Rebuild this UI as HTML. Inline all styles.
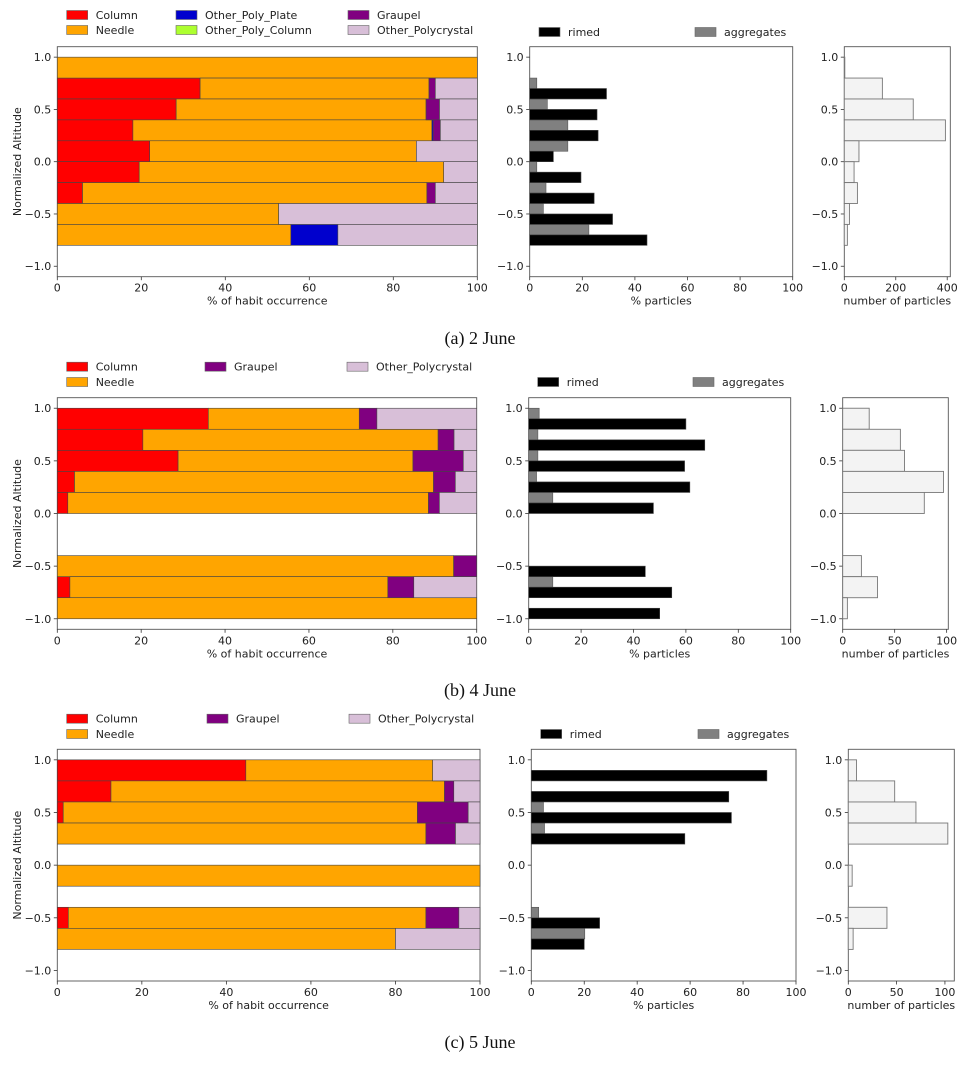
<!DOCTYPE html>
<html><head><meta charset="utf-8">
<style>
html,body{margin:0;padding:0;background:#fff;}
svg{display:block;font-family:"DejaVu Sans","Liberation Sans",sans-serif;}
</style></head>
<body>
<svg id="fig" width="969" height="1065" viewBox="0 0 969 1065" xmlns="http://www.w3.org/2000/svg"></svg>
<script>
// ---- data ----
const habitNames = ["Column","Needle","Other_Poly_Plate","Other_Poly_Column","Graupel","Other_Polycrystal"];
const habitColors = ["#ff0000","#ffa500","#0000cd","#adff2f","#800080","#d8bfd8"];
const xTicksPct = [0,20,40,60,80,100];
const yTicks = [-1.0,-0.5,0.0,0.5,1.0];

// panel a (2 June), bins from top (1.0) downward, 0.2 each
const aColumn = [0,34,28.3,18,22,19.5,6,0,0];
const aNeedle = [100,54.5,59.5,71.2,63.5,72.5,82,52.7,55.6];
const aPlate = [0,0,0,0.3,0,0,0,0,11.2];
const aPolyCol = [0,0,0,0,0,0,0,0,0];
const aGraupel = [0,1.5,3.2,1.7,0,0,2,0,0];
const aPoly = [0,10,9,8.8,14.5,8,10,47.3,33.2];
const aRimed = [0,29.2,25.6,26,9,19.5,24.5,31.5,44.6];
const aAgg = [0,2.7,6.7,14.5,14.5,2.7,6.2,5.2,22.5];
const aCount = [2,148,268,393,57,38,51,20,12];
const aCountTicks = [0,200,400];

// panel b (4 June)
const bColumn = [36,20.4,28.8,4.1,2.5,0,0,0,3,0];
const bNeedle = [36,70.4,56,85.6,86,0,0,94.5,75.8,100];
const bGraupel = [4.2,3.8,12,5.2,2.6,0,0,5.5,6.2,0];
const bPoly = [23.8,5.4,3.2,5.1,8.9,0,0,0,15,0];
const bRimed = [60,67.2,59.5,61.5,47.6,0,0,44.5,54.6,50];
const bAgg = [4,3.5,3.5,3,9.2,0,0,0,9.2,0];
const bCount = [25.5,55.5,59.5,97,78.5,0,0,18,33.5,4.5];
const bCountTicks = [0,50,100];

// panel c (5 June)
const cColumn = [44.6,12.7,1.4,0,0,0,0,2.6,0];
const cNeedle = [44.2,78.9,83.8,87.2,0,100,0,84.6,80];
const cGraupel = [0,2.2,12,7,0,0,0,7.8,0];
const cPoly = [11.2,6.2,2.8,5.8,0,0,0,5,20];
const cRimed = [89,74.6,75.6,58,0,0,0,25.8,20];
const cAgg = [0,0,4.6,5,0,0,0,2.8,20.2];
const cCount = [8.5,48,70,103,0,4,0,40,5];
const cCountTicks = [0,50,100];

const NS = "http://www.w3.org/2000/svg";
const svg = document.getElementById("fig");
function mk(tag, attrs, parent){
  const e = document.createElementNS(NS, tag);
  for (const k in attrs) e.setAttribute(k, attrs[k]);
  (parent||svg).appendChild(e);
  return e;
}
function txt(s, x, y, size, anchor, parent, extra){
  const t = mk("text", Object.assign({x:x, y:y, "font-size":size, "text-anchor":anchor||"middle", fill:"#222"}, extra||{}), parent);
  t.textContent = s;
  return t;
}
function fmtY(v){ const s = Math.abs(v).toFixed(1); return v < 0 ? "\u2212"+s : s; }

function axes(g, L, R, T, B, xmax, xticks, xlabel, yLabels, nameBase){
  const xs = v => L + (R-L)*v/xmax;
  const ys = v => T + (B-T)*(1.1 - v)/2.2;
  const frame = mk("rect",{x:L,y:T,width:R-L,height:B-T,fill:"none",stroke:"#555","stroke-width":0.9},g);
  
  
  xticks.forEach(v=>{
    const x = xs(v);
    mk("line",{x1:x,x2:x,y1:B,y2:B+3.5,stroke:"#333","stroke-width":0.8},g);
    const t = txt(String(v), x, B+15, 11, "middle", g);
    
    
  });
  yTicks.forEach(v=>{
    const y = ys(v);
    mk("line",{x1:L-3.5,x2:L,y1:y,y2:y,stroke:"#333","stroke-width":0.8},g);
    if (yLabels){
      const t = txt(fmtY(v), L-6, y+4, 11, "end", g);
      
      
    }
  });
  const xl = txt(xlabel, (L+R)/2, B+28, 11, "middle", g);
  
  
  return {xs, ys};
}

function legendEntry(g, x, y, color, label, edge){
  const r = mk("rect",{x:x,y:y-4.5,width:21,height:9,fill:color,stroke:edge||"#666","stroke-width":0.6},g);
  
  
  const t = txt(label, x+29, y+4, 11, "start", g);
  
  
}

function panel(cfg){
  const g = mk("g",{});
  
  
  // habit stacked bars
  const A = axes(g, cfg.L[0], cfg.L[1], cfg.T, cfg.B, 100, xTicksPct, "% of habit occurrence", true, cfg.name+"-habit");
  cfg.series.forEach(s=>{
    s.vals.forEach((v,i)=>{
      if (v<=0) return;
      let start = 0;
      cfg.series.slice(0, cfg.series.indexOf(s)).forEach(p=>{ start += p.vals[i]; });
      const y0 = A.ys(1.0 - 0.2*i), y1 = A.ys(0.8 - 0.2*i);
      const r = mk("rect",{x:A.xs(start), y:y0, width:A.xs(start+v)-A.xs(start), height:y1-y0, fill:s.color, stroke:"#444","stroke-width":0.6},g);
      
      
    });
  });
  const yl = txt("Normalized Altitude", 0, 0, 11, "middle", g, {transform:"translate(21,"+((cfg.T+cfg.B)/2)+") rotate(-90)"});
  
  

  // rimed / aggregates
  const M = axes(g, cfg.M[0], cfg.M[1], cfg.T, cfg.B, 100, xTicksPct, "% particles", true, cfg.name+"-riming");
  cfg.agg.forEach((v,i)=>{
    if (v<=0) return;
    const y0 = M.ys(1.0-0.2*i), y1 = M.ys(0.9-0.2*i);
    const r = mk("rect",{x:M.xs(0),y:y0,width:M.xs(v)-M.xs(0),height:y1-y0,fill:"#808080",stroke:"#555","stroke-width":0.6},g);
    
    
  });
  cfg.rimed.forEach((v,i)=>{
    if (v<=0) return;
    const y0 = M.ys(0.9-0.2*i), y1 = M.ys(0.8-0.2*i);
    const r = mk("rect",{x:M.xs(0),y:y0,width:M.xs(v)-M.xs(0),height:y1-y0,fill:"#000",stroke:"#444","stroke-width":0.6},g);
    
    
  });

  // counts histogram
  const H = axes(g, cfg.R[0], cfg.R[1], cfg.T, cfg.B, cfg.cmax, cfg.cticks, "number of particles", true, cfg.name+"-count");
  cfg.count.forEach((v,i)=>{
    if (v<=0) return;
    const y0 = H.ys(1.0-0.2*i), y1 = H.ys(0.8-0.2*i);
    const r = mk("rect",{x:H.xs(0),y:y0,width:H.xs(v)-H.xs(0),height:y1-y0,fill:"#f3f3f3",stroke:"#777","stroke-width":0.9},g);
    
    
  });

  // legends
  const lg = mk("g",{},g);
  
  
  cfg.legend.forEach(e=> legendEntry(lg, e[0], e[1], e[2], e[3]));
  legendEntry(lg, cfg.lr[0], cfg.lr[2], "#000", "rimed");
  legendEntry(lg, cfg.lr[1], cfg.lr[2], "#808080", "aggregates");

  const cap = mk("text",{x:480,y:cfg.capY,"font-size":18,"text-anchor":"middle",fill:"#111","font-family":"'Liberation Serif','DejaVu Serif',serif"},g);
  cap.textContent = cfg.caption;
  
  
}

panel({
  name:"panel-a", T:46.7, B:276.7, L:[57.3,477.3], M:[529.7,792.7], R:[844.3,950.3], cmax:412, cticks:aCountTicks,
  series:[
    {name:"Column",vals:aColumn,color:habitColors[0]},
    {name:"Needle",vals:aNeedle,color:habitColors[1]},
    {name:"Other_Poly_Plate",vals:aPlate,color:habitColors[2]},
    {name:"Other_Poly_Column",vals:aPolyCol,color:habitColors[3]},
    {name:"Graupel",vals:aGraupel,color:habitColors[4]},
    {name:"Other_Polycrystal",vals:aPoly,color:habitColors[5]}],
  rimed:aRimed, agg:aAgg, count:aCount,
  legend:[[66.7,15,habitColors[0],"Column"],[66.7,30,habitColors[1],"Needle"],
          [176,15,habitColors[2],"Other_Poly_Plate"],[176,30,habitColors[3],"Other_Poly_Column"],
          [348,15,habitColors[4],"Graupel"],[348,30,habitColors[5],"Other_Polycrystal"]],
  lr:[539,695,32], caption:"(a) 2 June", capY:344
});
panel({
  name:"panel-b", T:397.7, B:629.3, L:[57.3,476.7], M:[528.7,790.7], R:[842.7,948.3], cmax:101.6, cticks:bCountTicks,
  series:[
    {name:"Column",vals:bColumn,color:habitColors[0]},
    {name:"Needle",vals:bNeedle,color:habitColors[1]},
    {name:"Graupel",vals:bGraupel,color:habitColors[4]},
    {name:"Other_Polycrystal",vals:bPoly,color:habitColors[5]}],
  rimed:bRimed, agg:bAgg, count:bCount,
  legend:[[66.7,366.7,habitColors[0],"Column"],[66.7,382,habitColors[1],"Needle"],
          [205,366.7,habitColors[4],"Graupel"],[347,366.7,habitColors[5],"Other_Polycrystal"]],
  lr:[537.7,693,382], caption:"(b) 4 June", capY:696
});
panel({
  name:"panel-c", T:749.3, B:981, L:[57.3,480], M:[531.3,796], R:[848.3,954.3], cmax:109.7, cticks:cCountTicks,
  series:[
    {name:"Column",vals:cColumn,color:habitColors[0]},
    {name:"Needle",vals:cNeedle,color:habitColors[1]},
    {name:"Graupel",vals:cGraupel,color:habitColors[4]},
    {name:"Other_Polycrystal",vals:cPoly,color:habitColors[5]}],
  rimed:cRimed, agg:cAgg, count:cCount,
  legend:[[66.7,718.7,habitColors[0],"Column"],[66.7,734,habitColors[1],"Needle"],
          [207,718.7,habitColors[4],"Graupel"],[349,718.7,habitColors[5],"Other_Polycrystal"]],
  lr:[540.7,698,734], caption:"(c) 5 June", capY:1048
});
</script>
</body></html>
